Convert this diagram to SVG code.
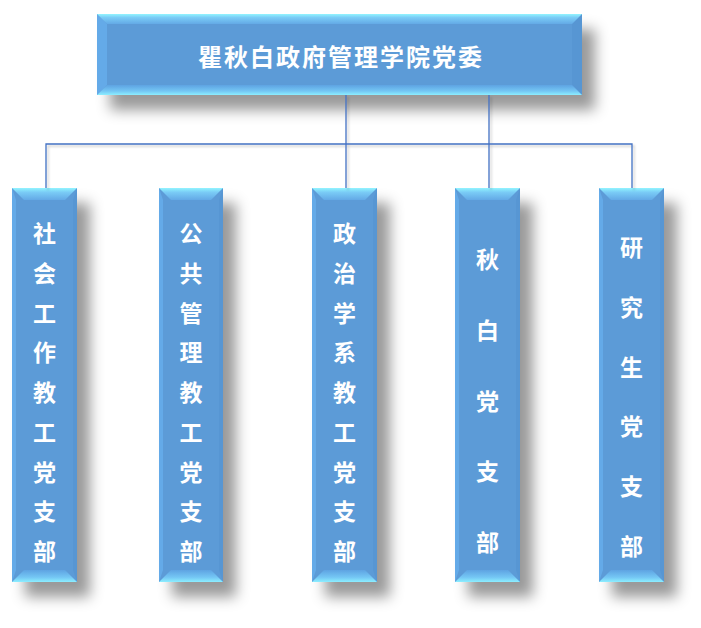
<svg xmlns="http://www.w3.org/2000/svg" width="701" height="628" viewBox="0 0 701 628">
<defs>
<filter id="sh" x="-30%" y="-30%" width="190%" height="190%">
<feDropShadow dx="13" dy="15" stdDeviation="7" flood-color="#000" flood-opacity="0.4"/>
</filter>
<filter id="lsh" x="-20%" y="-20%" width="140%" height="140%">
<feDropShadow dx="2" dy="2" stdDeviation="1" flood-color="#000" flood-opacity="0.2"/>
</filter>
<linearGradient id="gt" x1="0" y1="0" x2="0" y2="1">
<stop offset="0" stop-color="#92F4FF"/>
<stop offset="0.35" stop-color="#7ACCF6"/>
<stop offset="1" stop-color="#63A9E6"/>
</linearGradient>
<linearGradient id="gb" x1="0" y1="0" x2="0" y2="1">
<stop offset="0" stop-color="#5EA3E2"/>
<stop offset="0.6" stop-color="#74C6F4"/>
<stop offset="1" stop-color="#8CEEFF"/>
</linearGradient>
</defs>
<style>
.body{fill:#5B9BD7}
.bt{fill:url(#gt)}
.bb{fill:url(#gb)}
.bl{fill:#64AAE8}
.br{fill:#5796D3}
.t{font-family:"Noto Sans CJK SC","Noto Sans CJK TC",sans-serif;font-weight:700;fill:#FFFFFF;text-anchor:middle;dominant-baseline:central}
.c{font-size:23px}
.h{font-size:24px;letter-spacing:2px}
.ln{fill:none;stroke:#4472C4;stroke-width:1.3}
</style>

<g id="root">
<g filter="url(#sh)"><rect class="body" x="97" y="14" width="485" height="81"/></g>
<polygon class="bl" points="97,14 107,24 107,85 97,95"/>
<polygon class="br" points="582,14 572,24 572,85 582,95"/>
<polygon class="bt" points="97,14 582,14 572,24 107,24"/>
<polygon class="bb" points="97,95 582,95 572,85 107,85"/>
<text class="t h" x="341" y="55">瞿秋白政府管理学院党委</text>
</g>

<g id="n1">
<g filter="url(#sh)"><rect class="body" x="12" y="188" width="65" height="394"/></g>
<polygon class="bl" points="12,188 16,200 16,570 12,582"/>
<polygon class="br" points="77,188 73,200 73,570 77,582"/>
<polygon class="bt" points="12,188 77,188 65,200 24,200"/>
<polygon class="bb" points="12,582 77,582 65,570 24,570"/>
<text class="t c"><tspan x="44.5" y="232">社</tspan><tspan x="44.5" y="271.7">会</tspan><tspan x="44.5" y="311.5">工</tspan><tspan x="44.5" y="351.2">作</tspan><tspan x="44.5" y="391">教</tspan><tspan x="44.5" y="430.7">工</tspan><tspan x="44.5" y="470.5">党</tspan><tspan x="44.5" y="510.2">支</tspan><tspan x="44.5" y="550">部</tspan></text>
</g>

<g id="n2">
<g filter="url(#sh)"><rect class="body" x="159" y="188" width="64" height="394"/></g>
<polygon class="bl" points="159,188 163,200 163,570 159,582"/>
<polygon class="br" points="223,188 219,200 219,570 223,582"/>
<polygon class="bt" points="159,188 223,188 211,200 171,200"/>
<polygon class="bb" points="159,582 223,582 211,570 171,570"/>
<text class="t c"><tspan x="191" y="232">公</tspan><tspan x="191" y="271.7">共</tspan><tspan x="191" y="311.5">管</tspan><tspan x="191" y="351.2">理</tspan><tspan x="191" y="391">教</tspan><tspan x="191" y="430.7">工</tspan><tspan x="191" y="470.5">党</tspan><tspan x="191" y="510.2">支</tspan><tspan x="191" y="550">部</tspan></text>
</g>

<g id="n3">
<g filter="url(#sh)"><rect class="body" x="312" y="188" width="65" height="394"/></g>
<polygon class="bl" points="312,188 316,200 316,570 312,582"/>
<polygon class="br" points="377,188 373,200 373,570 377,582"/>
<polygon class="bt" points="312,188 377,188 365,200 324,200"/>
<polygon class="bb" points="312,582 377,582 365,570 324,570"/>
<text class="t c"><tspan x="344.5" y="232">政</tspan><tspan x="344.5" y="271.7">治</tspan><tspan x="344.5" y="311.5">学</tspan><tspan x="344.5" y="351.2">系</tspan><tspan x="344.5" y="391">教</tspan><tspan x="344.5" y="430.7">工</tspan><tspan x="344.5" y="470.5">党</tspan><tspan x="344.5" y="510.2">支</tspan><tspan x="344.5" y="550">部</tspan></text>
</g>

<g id="n4">
<g filter="url(#sh)"><rect class="body" x="455" y="188" width="65" height="394"/></g>
<polygon class="bl" points="455,188 459,200 459,570 455,582"/>
<polygon class="br" points="520,188 516,200 516,570 520,582"/>
<polygon class="bt" points="455,188 520,188 508,200 467,200"/>
<polygon class="bb" points="455,582 520,582 508,570 467,570"/>
<text class="t c"><tspan x="487.5" y="258">秋</tspan><tspan x="487.5" y="328.7">白</tspan><tspan x="487.5" y="399.5">党</tspan><tspan x="487.5" y="470.2">支</tspan><tspan x="487.5" y="541">部</tspan></text>
</g>

<g id="n5">
<g filter="url(#sh)"><rect class="body" x="599" y="188" width="65" height="394"/></g>
<polygon class="bl" points="599,188 603,200 603,570 599,582"/>
<polygon class="br" points="664,188 660,200 660,570 664,582"/>
<polygon class="bt" points="599,188 664,188 652,200 611,200"/>
<polygon class="bb" points="599,582 664,582 652,570 611,570"/>
<text class="t c"><tspan x="631.5" y="246">研</tspan><tspan x="631.5" y="305.8">究</tspan><tspan x="631.5" y="365.6">生</tspan><tspan x="631.5" y="425.4">党</tspan><tspan x="631.5" y="485.2">支</tspan><tspan x="631.5" y="545">部</tspan></text>
</g>

<g id="connectors" filter="url(#lsh)">
<path class="ln" d="M46,188 V144 H632 V188"/>
<path class="ln" d="M346,95 V188"/>
<path class="ln" d="M489,95 V188"/>
</g>
</svg>
